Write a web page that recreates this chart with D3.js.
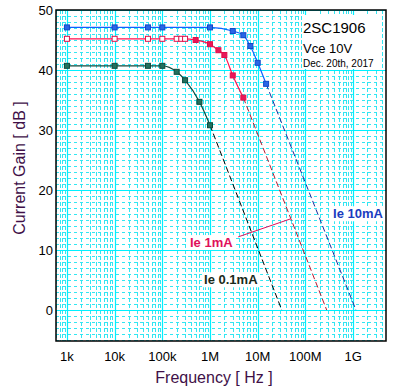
<!DOCTYPE html>
<html>
<head>
<meta charset="utf-8">
<script src="https://cdn.jsdelivr.net/npm/d3@7"></script>
<style>
  body { margin: 0; background: #fff; }
  text { font-family: Arial, "Liberation Sans", sans-serif; }
</style>
</head>
<body>
<svg width="408" height="391"></svg>
<script>
// measured points, frequency in Hz, gain in dB
const freq10mA = [1e3, 1e4, 5e4, 1e5, 1e6, 3e6, 5e6, 7e6, 1e7, 1.5e7];
const gain10mA = [47.1, 47.1, 47.1, 47.1, 47.1, 46.5, 45.8, 44.0, 41.2, 37.7];
const freq1mA = [1e3, 1e4, 5e4, 1e5, 2e5, 2.5e5, 3e5, 5e5, 1e6, 1.5e6, 2e6, 3e6, 5e6];
const gain1mA = [45.2, 45.2, 45.2, 45.2, 45.2, 45.2, 45.2, 45.0, 44.3, 43.3, 42.5, 39.1, 35.4];
const freq01mA = [1e3, 1e4, 5e4, 1e5, 2e5, 3e5, 6e5, 1e6];
const gain01mA = [40.7, 40.7, 40.7, 40.7, 39.7, 38.3, 34.7, 30.8];

// -20dB/dec extrapolation down to 0 dB (fT)
const fit10mA = [[1.5e7, 37.7], [1.15e9, 0]];
const fit1mA = [[5e6, 35.4], [2.8e8, 0]];
const fit01mA = [[1e6, 30.8], [3.2e7, 0]];

const xTicks = [1e3, 1e4, 1e5, 1e6, 1e7, 1e8, 1e9];
const xTickLabels = ['1k', '10k', '100k', '1M', '10M', '100M', '1G'];
const yTicks = [0, 10, 20, 30, 40, 50];

const svg = d3.select('svg');

const x = d3.scaleLog().domain([590, 4.9e9]).range([56, 386]);
const y = d3.scaleLinear().domain([-5.15, 50]).range([341, 10]);

const [x0, x1] = x.range();
const [y0, y1] = y.range();

// minor grid
const minorX = [];
for (let dec = 100; dec <= 1e9; dec *= 10) {
  for (let m = 2; m <= 9; m++) {
    const v = dec * m;
    if (v > x.domain()[0] && v < x.domain()[1]) minorX.push(v);
  }
}
const minorY = d3.range(-5, 50).filter((d) => d % 10 !== 0);

const grid = svg.append('g');
grid.selectAll('.mx').data(minorX).enter().append('line')
  .attr('x1', (d) => Math.round(x(d)) + 0.5).attr('x2', (d) => Math.round(x(d)) + 0.5)
  .attr('y1', y1).attr('y2', y0)
  .attr('stroke', '#33e6f2').attr('stroke-width', 1)
  .attr('stroke-dasharray', '4,2');
grid.selectAll('.my').data(minorY).enter().append('line')
  .attr('x1', x0).attr('x2', x1)
  .attr('y1', (d) => Math.round(y(d)) + 0.5).attr('y2', (d) => Math.round(y(d)) + 0.5)
  .attr('stroke', '#33e6f2').attr('stroke-width', 1)
  .attr('stroke-dasharray', '3,3');

// major grid
grid.selectAll('.Mx').data(xTicks).enter().append('line')
  .attr('x1', (d) => Math.round(x(d)) + 0.5).attr('x2', (d) => Math.round(x(d)) + 0.5)
  .attr('y1', y1).attr('y2', y0)
  .attr('stroke', '#00f0ff').attr('stroke-width', 1.2);
grid.selectAll('.My').data(yTicks).enter().append('line')
  .attr('x1', x0).attr('x2', x1)
  .attr('y1', (d) => Math.round(y(d)) + 0.5).attr('y2', (d) => Math.round(y(d)) + 0.5)
  .attr('stroke', '#00f0ff').attr('stroke-width', 1.2);

// tick labels
svg.selectAll('.xl').data(xTicks).enter().append('text')
  .attr('x', (d) => x(d)).attr('y', 361)
  .attr('text-anchor', 'middle').attr('font-size', 13)
  .text((d, i) => xTickLabels[i]);
svg.selectAll('.yl').data(yTicks).enter().append('text')
  .attr('x', 53).attr('y', (d) => y(d) + 5)
  .attr('text-anchor', 'end').attr('font-size', 13)
  .text((d) => d);

// axis titles
svg.append('text')
  .attr('x', 214).attr('y', 383)
  .attr('text-anchor', 'middle').attr('font-size', 16).attr('fill', '#401048')
  .text('Frequency [ Hz ]');
svg.append('text')
  .attr('transform', 'translate(25,168) rotate(-90)')
  .attr('text-anchor', 'middle').attr('font-size', 16).attr('fill', '#401048')
  .text('Current Gain [ dB ]');

const series = [
  { f: freq10mA, g: gain10mA, fit: fit10mA, line: '#1060ff', dash: '#1a2a9a', fill: '#2a66e6', stroke: '#1048c8' },
  { f: freq1mA, g: gain1mA, fit: fit1mA, line: '#ff1050', dash: '#b81830', fill: '#e8185a', stroke: '#e0104a' },
  { f: freq01mA, g: gain01mA, fit: fit01mA, line: '#10483c', dash: '#000', fill: '#22705e', stroke: '#0c4a3c' }
];

const curve = d3.line().x((d) => x(d[0])).y((d) => y(d[1])).curve(d3.curveMonotoneX);
const straight = d3.line().x((d) => x(d[0])).y((d) => y(d[1]));

series.forEach((s, si) => {
  const pts = s.f.map((f, i) => [f, s.g[i]]);
  svg.append('path').attr('d', straight(s.fit))
    .attr('fill', 'none').attr('stroke', s.dash).attr('stroke-width', 1)
    .attr('stroke-dasharray', '6,3');
  svg.append('path').attr('d', curve(pts))
    .attr('fill', 'none').attr('stroke', s.line).attr('stroke-width', 1.2);
  svg.selectAll('.m' + si).data(pts).enter().append('rect')
    .attr('x', (d) => x(d[0]) - 2.5).attr('y', (d) => y(d[1]) - 2.5)
    .attr('width', 5).attr('height', 5)
    .attr('fill', (d, i) => (si === 1 && i < 7 ? '#fff' : s.fill))
    .attr('stroke', s.stroke).attr('stroke-width', 1);
});

// leader line for Ie 1mA
svg.append('path').attr('d', straight([[3.9e6, 12.2], [4.9e7, 15.2]]))
  .attr('fill', 'none').attr('stroke', '#e0105a').attr('stroke-width', 1);

function label(txt, f, g, color, size, weight) {
  const t = svg.append('text')
    .attr('x', x(f)).attr('y', y(g))
    .attr('font-size', size).attr('font-weight', weight).attr('fill', color)
    .text(txt);
  const b = t.node().getBBox();
  svg.insert('rect', () => t.node())
    .attr('x', b.x - 2).attr('y', b.y).attr('width', b.width + 4).attr('height', b.height)
    .attr('fill', '#fff');
  return t;
}

label('Ie 10mA', 3.8e8, 15.3, '#1a3cc0', 13, 'bold');
label('Ie 1mA', 3.8e5, 10.5, '#e0105a', 13, 'bold');
label('Ie 0.1mA', 7.5e5, 4.3, '#1a2a1a', 13, 'bold');

// device info box
const info = svg.append('g');
info.append('rect').attr('x', 302).attr('y', 15).attr('width', 80).attr('height', 54).attr('fill', '#fff');
info.append('text').attr('x', 303).attr('y', 33).attr('font-size', 15).text('2SC1906');
info.append('text').attr('x', 303).attr('y', 53).attr('font-size', 13).text('Vce 10V');
info.append('text').attr('x', 303).attr('y', 67).attr('font-size', 10).text('Dec. 20th, 2017');

// frame
svg.append('rect')
  .attr('x', x0).attr('y', y1).attr('width', x1 - x0).attr('height', y0 - y1)
  .attr('fill', 'none').attr('stroke', '#000').attr('stroke-width', 1.5);
</script>
</body>
</html>
